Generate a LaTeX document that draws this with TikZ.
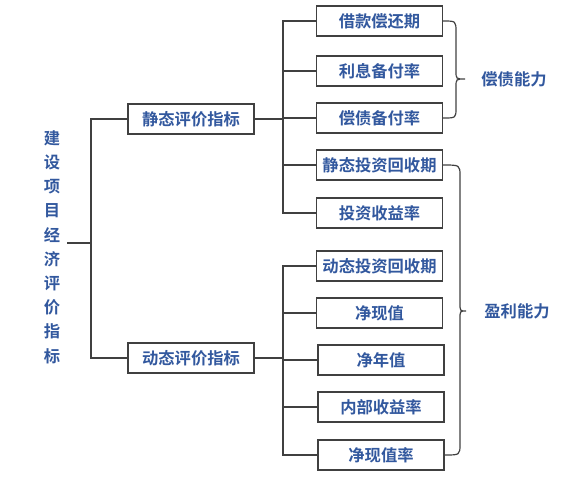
\documentclass[tikz,border=0pt]{standalone}
\usepackage{fontspec}
\newfontfamily\cjkb{Noto Sans CJK SC Bold}
\definecolor{txtblue}{RGB}{50,88,158}
\definecolor{linegray}{RGB}{64,64,64}
\begin{document}
\begin{tikzpicture}[x=1pt,y=-1pt,
  line/.style={draw=linegray,line width=1.2pt},
  box/.style={draw=linegray,line width=1.2pt,minimum width=126pt,minimum height=30pt,inner sep=0pt,
    text=txtblue,font=\cjkb\fontsize{16.3}{18}\selectfont},
  lbl/.style={text=txtblue,font=\cjkb\fontsize{16.3}{18}\selectfont,inner sep=0pt}]
\useasboundingbox (0,0) rectangle (567,479);
% root
\node[lbl,align=center,font=\cjkb\fontsize{16.3}{24.2}\selectfont] (root) at (52,247)
  {建\\设\\项\\目\\经\\济\\评\\价\\指\\标};
\coordinate (rootc) at (67,243);
\coordinate (busR) at (91,0);
% level 1
\node[box] (s) at (191,119) {静态评价指标};
\node[box] (d) at (191,358) {动态评价指标};
% level 2
\node[box] (c1) at (379.5,21) {借款偿还期};
\node[box] (c2) at (379.5,71) {利息备付率};
\node[box] (c3) at (379.5,118) {偿债备付率};
\node[box] (c4) at (379.5,165) {静态投资回收期};
\node[box] (c5) at (379.5,213) {投资收益率};
\node[box] (c6) at (379.5,266) {动态投资回收期};
\node[box] (c7) at (379.5,313) {净现值};
\node[box] (c8) at (381,360) {净年值};
\node[box] (c9) at (381,407) {内部收益率};
\node[box] (c10) at (381,455) {净现值率};
\coordinate (busS) at (283,0);
% labels
\node[lbl] (l1) at (514,79) {偿债能力};
\node[lbl] (l2) at (517,311) {盈利能力};
% root connectors
\draw[line] (rootc) -- (rootc -| busR);
\draw[line] (s.west) -- (s.west -| busR) -- (d.west -| busR) -- (d.west);
% static bus
\draw[line] (s.east) -- (s.east -| busS);
\draw[line] (c1.west) -- (c1.west -| busS) -- (c5.west -| busS) -- (c5.west);
\foreach \n in {c2,c3,c4} \draw[line] (\n.west) -- (\n.west -| busS);
% dynamic bus
\draw[line] (d.east) -- (d.east -| busS);
\draw[line] (c6.west) -- (c6.west -| busS) -- (c10.west -| busS) -- (c10.west);
\foreach \n in {c7,c8,c9} \draw[line] (\n.west) -- (\n.west -| busS);
% braces
\draw[line] (c1.east) .. controls (456,21) .. (456,32) -- (456,71)
  .. controls (456,79) .. (465,79) .. controls (456,79) .. (456,87)
  -- (456,108) .. controls (456,118) .. (c3.east);
\draw[line] (c4.east) .. controls (460,165) .. (460,176) -- (460,303)
  .. controls (460,311) .. (466,311) .. controls (460,311) .. (460,319)
  -- (460,444) .. controls (460,455) .. (c10.east);
\end{tikzpicture}
\end{document}
